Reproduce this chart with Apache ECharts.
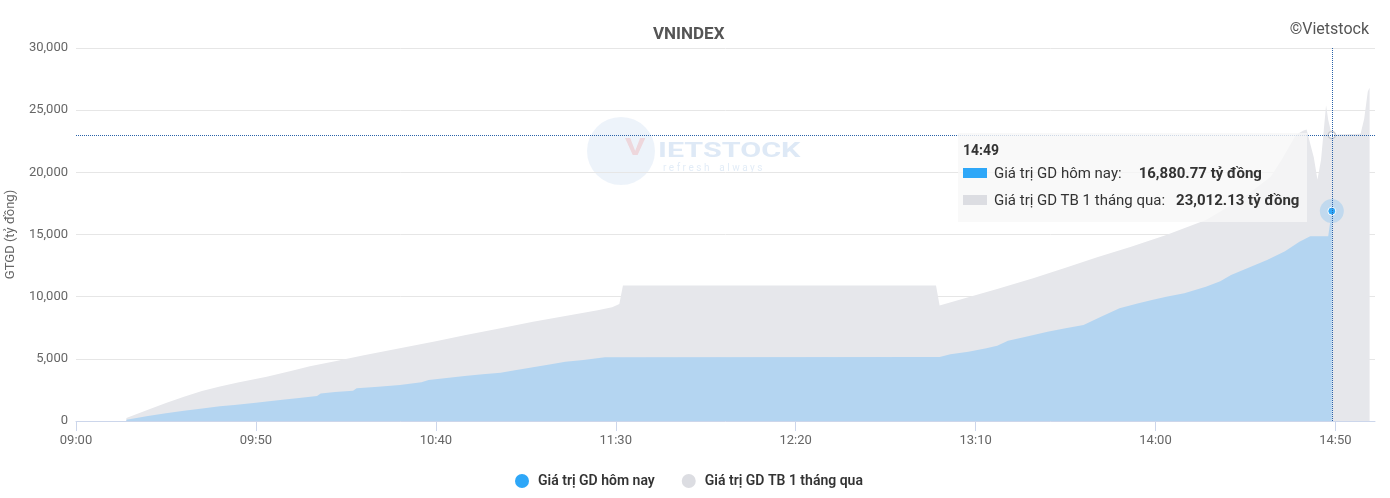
<!DOCTYPE html>
<html>
<head>
<meta charset="utf-8">
<title>VNINDEX</title>
<script src="https://cdn.jsdelivr.net/npm/echarts@6/dist/echarts.min.js"></script>
<style>
  html, body { margin: 0; padding: 0; background: #fff; }
  #chart { width: 1390px; height: 498px; }
</style>
</head>
<body>
<div id="chart"></div>
<script>
// minutes after 09:00
const xTickMinutes = [0, 50, 100, 150, 200, 250, 300, 350];

const todayName = "Giá trị GD hôm nay";
const avgName = "Giá trị GD TB 1 tháng qua";

const todayMinutes = [14, 20, 25, 30, 34, 40, 44, 50, 53, 58, 62, 67, 68, 72, 77, 78, 84, 90, 96, 98,
  103, 108, 113, 118, 122, 127, 132, 136, 141, 147, 240, 243, 248, 253, 256, 259, 264, 270, 275, 280,
  285, 290, 295, 299, 303, 308, 314, 318, 321, 326, 331, 336, 340, 343, 348, 349];
const todayValues = [100, 400, 620, 820, 960, 1180, 1290, 1470, 1560, 1720, 1850, 2010, 2220, 2330, 2440, 2630, 2760, 2900, 3110, 3300,
  3450, 3620, 3760, 3890, 4080, 4320, 4560, 4770, 4900, 5130, 5150, 5360, 5560, 5850, 6050, 6460, 6780, 7180, 7450, 7720,
  8400, 9060, 9450, 9730, 10000, 10270, 10800, 11250, 11740, 12350, 12950, 13650, 14420, 14850, 14850, 16880.77];

const avgMinutes = [14, 20, 25, 30, 35, 40, 45, 53, 60, 65, 72, 80, 90, 100, 108, 118, 127, 136, 145, 149,
  151, 152, 239, 240, 247, 256, 266, 275, 284, 293, 303, 314, 320, 325, 332, 335, 339, 341, 342, 343,
  344, 345, 346, 347.4, 348, 349, 350, 357, 358, 359, 359.5];
const avgValues = [250, 900, 1450, 1950, 2420, 2780, 3100, 3560, 4050, 4400, 4800, 5280, 5850, 6420, 6900, 7450, 7990, 8450, 8900, 9140,
  9410, 10900, 10900, 9280, 9870, 10620, 11480, 12330, 13200, 14000, 14960, 16170, 17200, 18100, 19650, 21000, 23000, 23350, 23450, 22300,
  21200, 19400, 21000, 25400, 24200, 23012.13, 23050, 23100, 24300, 26500, 26800];

const zip = (xs, ys) => xs.map((x, i) => [x, ys[i]]);
const pad = n => (n < 10 ? "0" : "") + n;
const toClock = m => pad(9 + Math.floor(m / 60)) + ":" + pad(Math.round(m % 60));
const fmt = v => v.toLocaleString("en-US", { minimumFractionDigits: 2, maximumFractionDigits: 2 });
const last = arr => arr[arr.length - 1];

const blue = "#2ea7f8";
const blueArea = "#b4d5f1";
const grey = "#dcdde2";
const greyArea = "#e6e7eb";
const pointer = "#2a62a8";
const font = "Roboto";

const chart = echarts.init(document.getElementById("chart"));

const option = {
  animation: false,
  textStyle: { fontFamily: font },
  title: {
    text: "VNINDEX",
    left: 648,
    top: 21,
    textStyle: { fontSize: 17, fontWeight: "bold", color: "#555", fontFamily: font },
  },
  graphic: [
    {
      type: "text", right: 21, top: 22,
      style: { text: "©Vietstock", fontSize: 16, fill: "#555", fontFamily: font },
    },
    {
      type: "group", left: 587, top: 117, silent: true, z: 0,
      children: [
        { type: "circle", shape: { cx: 34, cy: 34, r: 34 }, style: { fill: "rgba(196,216,240,0.3)" } },
        { type: "text", x: 38, y: 20, scaleX: 1.3, style: { text: "V", fontSize: 24, fontWeight: "bold", fill: "rgba(240,150,150,0.3)", fontFamily: font } },
        { type: "text", x: 71, y: 24, scaleX: 1.45, style: { text: "IETSTOCK", fontSize: 21, fontWeight: "bold", fill: "rgba(190,212,238,0.5)", fontFamily: font } },
        { type: "text", x: 76, y: 46, style: { text: "r e f r e s h    a l w a y s", fontSize: 10, fill: "rgba(190,212,238,0.45)", fontFamily: font } },
      ],
    },
  ],
  legend: {
    data: [
      { name: todayName, itemStyle: { color: blue, borderWidth: 0 } },
      { name: avgName, itemStyle: { color: grey, borderWidth: 0 } },
    ],
    left: 510,
    top: 469,
    icon: "circle",
    itemWidth: 14,
    itemHeight: 14,
    itemGap: 27,
    textStyle: { fontSize: 14, color: "#333", fontWeight: 600, fontFamily: font, padding: [0, 0, 0, 4] },
  },
  grid: { left: 76, right: 15, top: 48, bottom: 77, containLabel: false, outerBoundsMode: "none" },
  tooltip: {
    trigger: "axis",
    alwaysShowContent: true,
    backgroundColor: "rgba(247,247,247,0.8)",
    borderWidth: 0,
    padding: [7, 8, 8, 5],
    extraCssText: "box-shadow:none;border-radius:0;",
    position: function () { return [958, 133]; },
    axisPointer: {
      type: "cross",
      label: { show: false },
      lineStyle: { color: pointer, type: "dotted", width: 1 },
      crossStyle: { color: pointer, type: "dotted", width: 1 },
    },
    formatter: function (params) {
      const t = params.find(p => p.seriesName === todayName);
      const a = params.find(p => p.seriesName === avgName);
      const row = (color, name, v, gap) =>
        '<div style="line-height:27px;font-size:15px;color:#333">' +
        '<span style="display:inline-block;width:24px;height:10px;background:' + color + ';margin-right:7px;vertical-align:0px"></span>' +
        name + ':<b style="font-size:15px;margin-left:' + gap + 'px">' + fmt(v) + ' tỷ đồng</b></div>';
      return '<div style="font-family:Roboto">' +
        '<div style="font-weight:bold;font-size:14px;color:#333;line-height:20px">' + toClock(params[0].value[0]) + '</div>' +
        row(blue, todayName, t.value[1], 17) +
        row(grey, avgName, a.value[1], 11) + '</div>';
    },
  },
  xAxis: {
    type: "value",
    min: 0,
    max: 361,
    interval: 50,
    axisLine: { lineStyle: { color: "#ccd6eb" } },
    axisTick: { show: true, length: 10, lineStyle: { color: "#ccd6eb" }, customValues: xTickMinutes },
    axisLabel: { color: "#666", fontSize: 13, margin: 13, customValues: xTickMinutes, formatter: v => toClock(v) },
    splitLine: { show: false },
  },
  yAxis: {
    type: "value",
    min: 0,
    max: 30000,
    interval: 5000,
    name: "GTGD (tỷ đồng)",
    nameLocation: "middle",
    nameGap: 59,
    nameTextStyle: { color: "#666", fontSize: 13 },
    axisLine: { show: false },
    axisTick: { show: false },
    axisLabel: { color: "#666", fontSize: 13, margin: 8, formatter: v => v.toLocaleString("en-US") },
    splitLine: { lineStyle: { color: "#e6e6e6" } },
  },
  series: [
    {
      name: avgName,
      type: "line",
      data: zip(avgMinutes, avgValues),
      showSymbol: false,
      symbol: "circle",
      symbolSize: 7,
      color: grey,
      itemStyle: { color: "#fff", borderColor: "#c8c9ce", borderWidth: 1.5 },
      lineStyle: { width: 0 },
      areaStyle: { color: greyArea, opacity: 1 },
      emphasis: { scale: false, lineStyle: { width: 0 }, areaStyle: { color: greyArea } },
      z: 2,
    },
    {
      name: todayName,
      type: "line",
      data: zip(todayMinutes, todayValues),
      showSymbol: false,
      symbol: "circle",
      symbolSize: 8,
      color: blue,
      itemStyle: { color: blue, borderColor: "#fff", borderWidth: 1 },
      lineStyle: { width: 0 },
      areaStyle: { color: blueArea, opacity: 1 },
      emphasis: { scale: false, lineStyle: { width: 0 }, areaStyle: { color: blueArea } },
      z: 3,
    },
    {
      name: "halo",
      type: "scatter",
      silent: true,
      symbolSize: 24,
      data: [[last(todayMinutes), last(todayValues)]],
      itemStyle: { color: "rgba(46,167,248,0.25)" },
      tooltip: { show: false },
      z: 2,
    },
  ],
};

chart.setOption(option);
chart.dispatchAction({
  type: "showTip",
  seriesIndex: 0,
  dataIndex: avgMinutes.indexOf(349),
});
</script>
</body>
</html>
